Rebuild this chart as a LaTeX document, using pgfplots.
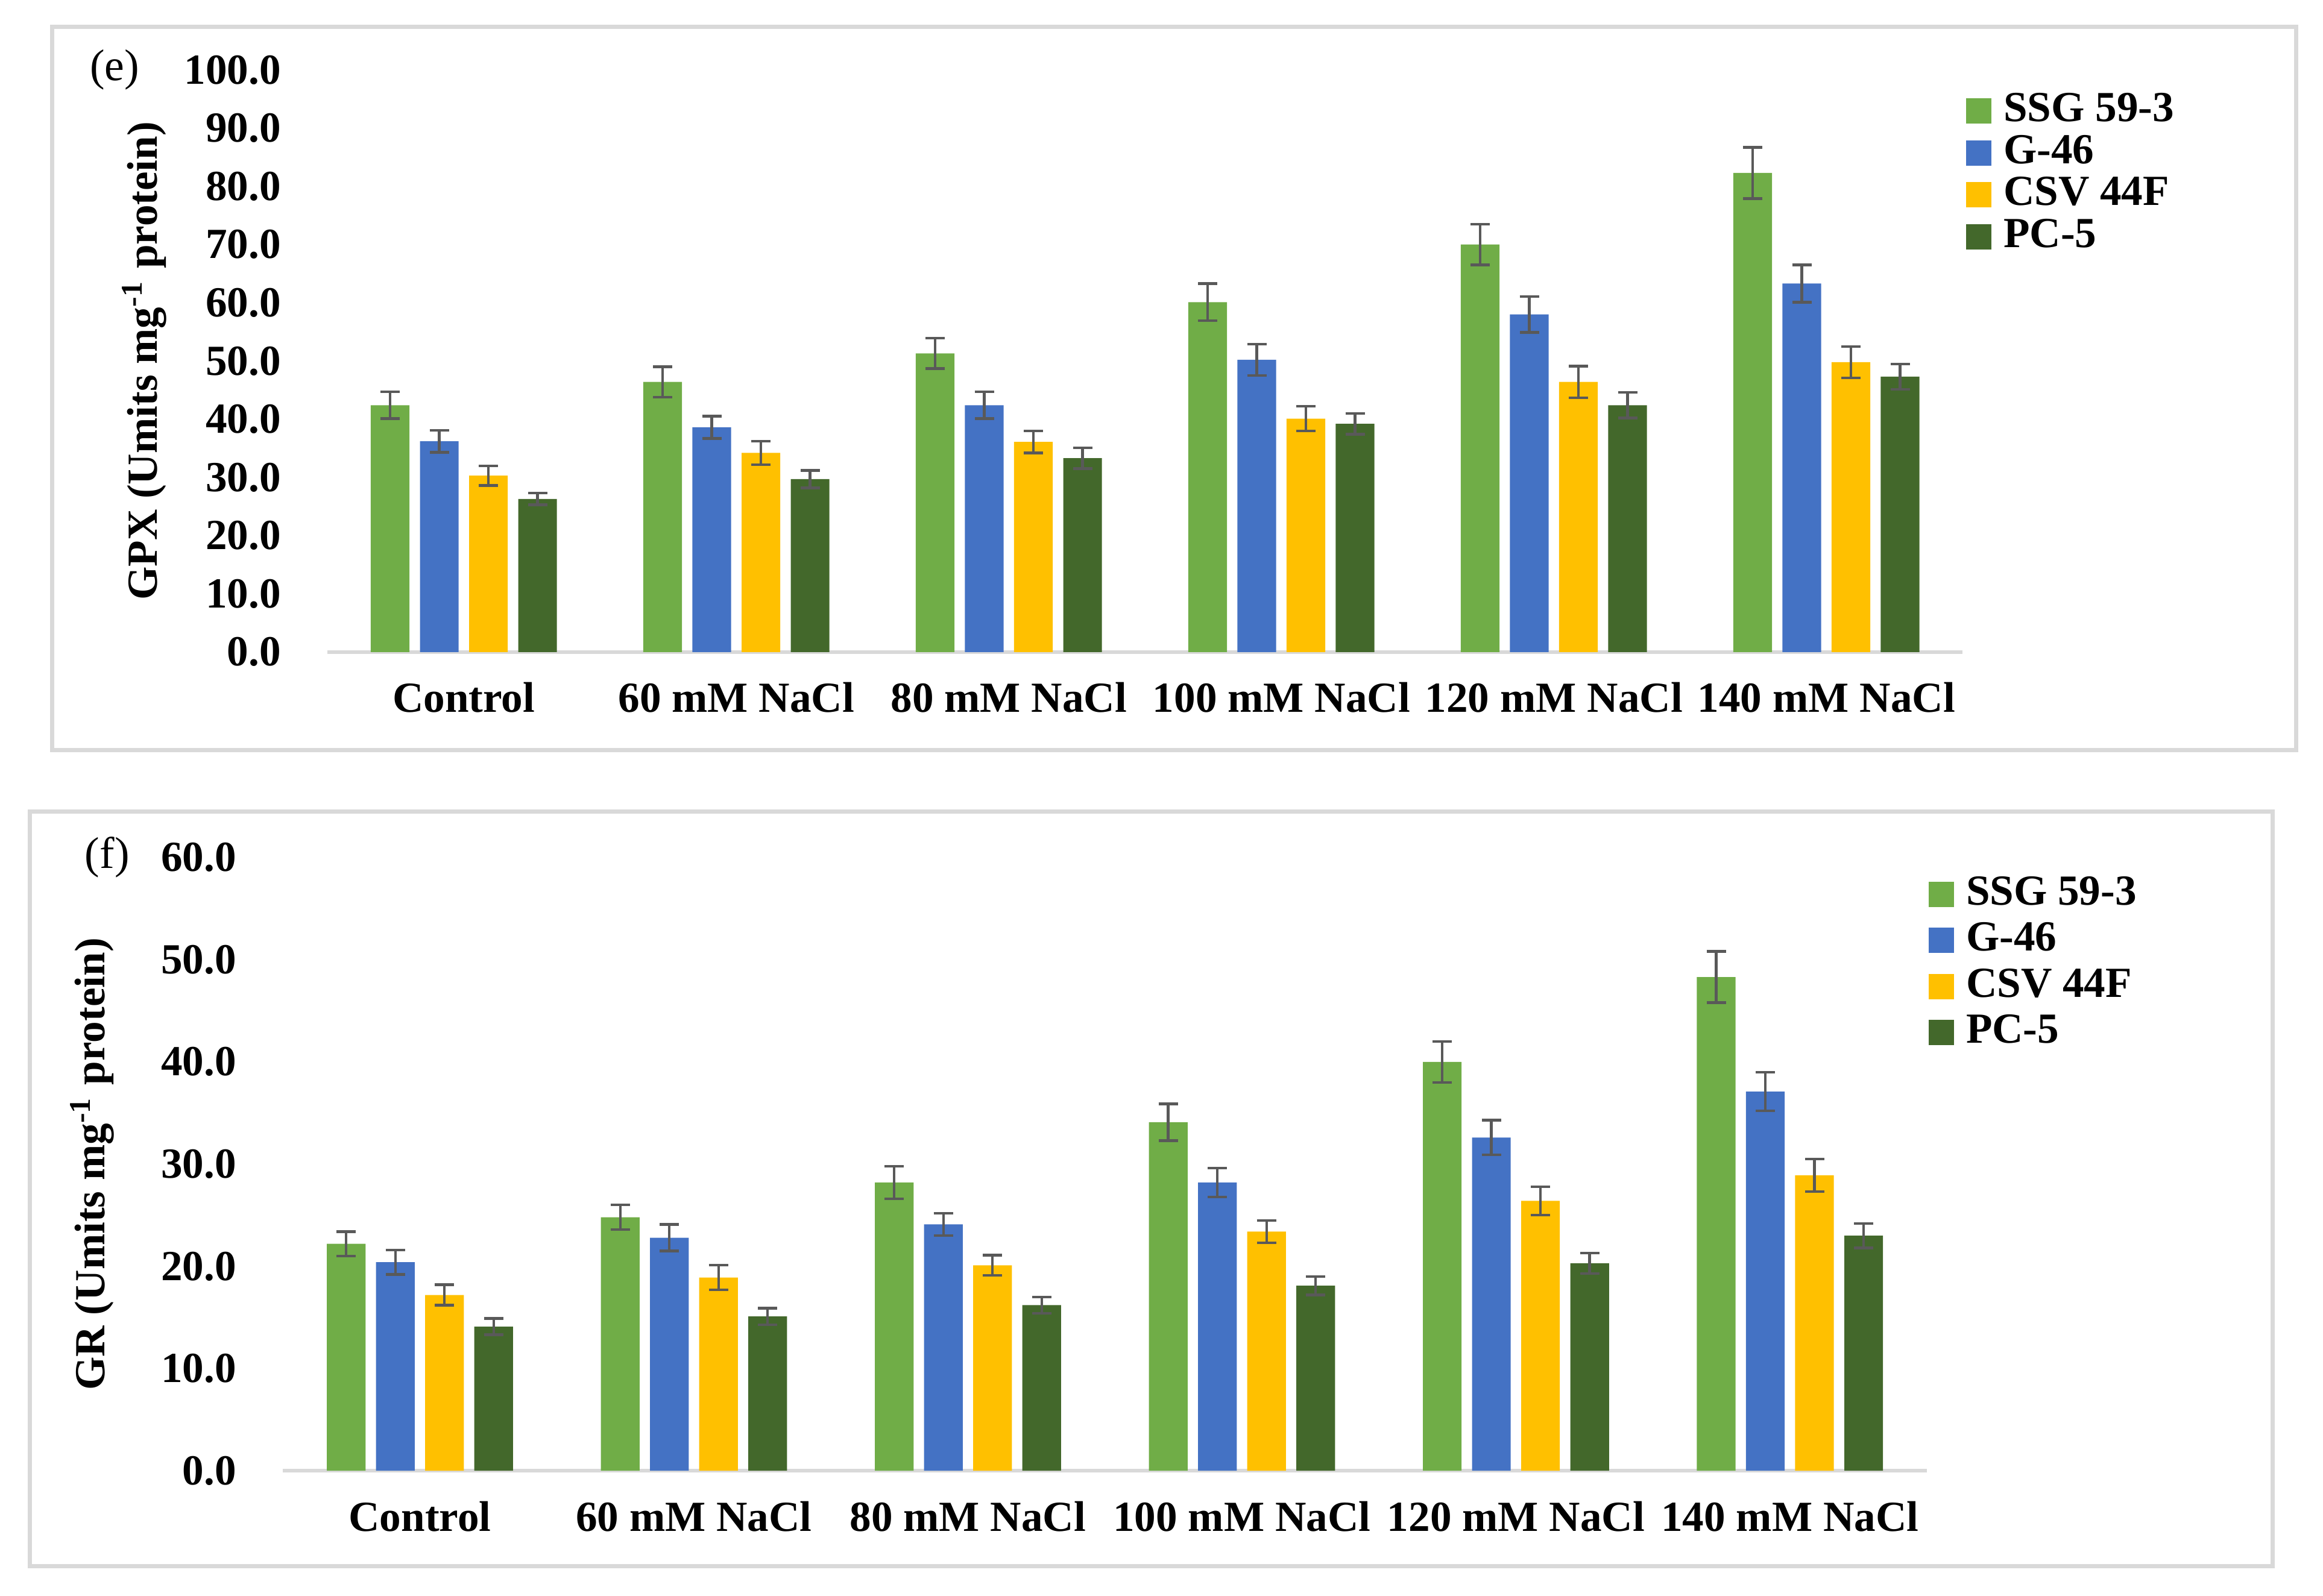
\documentclass[border=0pt]{standalone}
\usepackage{pgfplots}
\pgfplotsset{compat=1.18}
\usepackage{fontspec}
\setmainfont{Liberation Serif}

\definecolor{ssg}{HTML}{70AD47}
\definecolor{gsix}{HTML}{4472C4}
\definecolor{csv}{HTML}{FFC000}
\definecolor{pcf}{HTML}{43682B}
\definecolor{framegray}{HTML}{D9D9D9}
\definecolor{errgray}{HTML}{595959}

\newcommand{\lblfont}{\bfseries\fontsize{8.2}{9.8}\selectfont}

\pgfplotsset{
  panel/.style={
    scale only axis,
    ybar=0.07cm, bar width=0.26cm,
    xmin=-0.5, xmax=5.5,
    xtick={0,...,5},
    xticklabels={Control, 60 mM NaCl, 80 mM NaCl, 100 mM NaCl, 120 mM NaCl, 140 mM NaCl},
    axis x line*=bottom, axis y line*=left,
    y axis line style={draw=none},
    x axis line style={draw=framegray, line width=0.7pt},
    major tick length=0pt,
    tick label style={font=\lblfont},
    /pgf/number format/assume math mode=true,
    yticklabel style={/pgf/number format/.cd, fixed, fixed zerofill, precision=1, /tikz/.cd, xshift=-0.19cm},
    xticklabel style={yshift=-0.08cm},
    label style={font=\lblfont},
    legend cell align=left,
    legend image code/.code={\fill[##1] (0cm,-0.085cm) rectangle (0.17cm,0.085cm);},
    every axis plot/.append style={draw=none,
      error bars/y dir=both, error bars/y explicit,
      error bars/error bar style={line width=0.5pt, draw=errgray},
      error bars/error mark options={rotate=90, mark size=0.065cm, line width=0.5pt, draw=errgray}},
  },
}

\begin{document}
\begin{tikzpicture}
\path[use as bounding box] (0,0) rectangle (15.6,10.72);
\draw[framegray, line width=0.8pt] (0.35,5.68) rectangle (15.42,10.54);
\draw[framegray, line width=0.8pt] (0.20,0.20) rectangle (15.26,5.27);
\node[font=\fontsize{8.5}{10}\selectfont] at (0.77,10.25) {(e)};
\node[font=\fontsize{8.5}{10}\selectfont] at (0.72,4.96) {(f)};

% (e) GPX
\begin{axis}[panel,
  at={(2.20cm,6.34cm)}, anchor=south west,
  width=10.98cm, height=3.91cm,
  ymin=0, ymax=100, ytick={0,10,...,100},
  ylabel={GPX (Umits mg\textsuperscript{-1} protein)},
  y label style={at={(axis description cs:-0.112,0.5)}, anchor=center},
  legend style={at={(0.992,0.985)}, anchor=north west, draw=none, fill=none,
    font=\lblfont, row sep=0pt, column sep=0.08cm,
    nodes={inner sep=0pt, text height=6pt, text depth=2pt}},
]
\addplot[fill=ssg] coordinates {
  (0,42.4) +- (0,2.3) (1,46.4) +- (0,2.6) (2,51.3) +- (0,2.6)
  (3,60.1) +- (0,3.2) (4,70.0) +- (0,3.5) (5,82.3) +- (0,4.4)};
\addplot[fill=gsix] coordinates {
  (0,36.2) +- (0,1.9) (1,38.6) +- (0,1.9) (2,42.4) +- (0,2.3)
  (3,50.2) +- (0,2.7) (4,58.0) +- (0,3.1) (5,63.3) +- (0,3.2)};
\addplot[fill=csv] coordinates {
  (0,30.3) +- (0,1.7) (1,34.2) +- (0,2.0) (2,36.1) +- (0,1.9)
  (3,40.1) +- (0,2.1) (4,46.4) +- (0,2.7) (5,49.8) +- (0,2.7)};
\addplot[fill=pcf] coordinates {
  (0,26.3) +- (0,1.0) (1,29.7) +- (0,1.5) (2,33.3) +- (0,1.8)
  (3,39.2) +- (0,1.8) (4,42.4) +- (0,2.2) (5,47.3) +- (0,2.2)};
\legend{SSG 59-3, G-46, CSV 44F, PC-5}
\end{axis}

% (f) GR
\begin{axis}[panel,
  at={(1.90cm,0.84cm)}, anchor=south west,
  width=11.04cm, height=4.12cm,
  ymin=0, ymax=60, ytick={0,10,...,60},
  ylabel={GR (Umits mg\textsuperscript{-1} protein)},
  y label style={at={(axis description cs:-0.116,0.5)}, anchor=center},
  legend style={at={(0.991,0.996)}, anchor=north west, draw=none, fill=none,
    font=\lblfont, row sep=0pt, column sep=0.08cm,
    nodes={inner sep=0pt, text height=6.4pt, text depth=2.4pt}},
]
\addplot[fill=ssg] coordinates {
  (0,22.2) +- (0,1.2) (1,24.8) +- (0,1.2) (2,28.2) +- (0,1.6)
  (3,34.1) +- (0,1.8) (4,40.0) +- (0,2.0) (5,48.3) +- (0,2.5)};
\addplot[fill=gsix] coordinates {
  (0,20.4) +- (0,1.2) (1,22.8) +- (0,1.3) (2,24.1) +- (0,1.1)
  (3,28.2) +- (0,1.4) (4,32.6) +- (0,1.7) (5,37.1) +- (0,1.9)};
\addplot[fill=csv] coordinates {
  (0,17.2) +- (0,1.0) (1,18.9) +- (0,1.2) (2,20.1) +- (0,1.0)
  (3,23.4) +- (0,1.1) (4,26.4) +- (0,1.4) (5,28.9) +- (0,1.6)};
\addplot[fill=pcf] coordinates {
  (0,14.1) +- (0,0.8) (1,15.1) +- (0,0.8) (2,16.2) +- (0,0.8)
  (3,18.1) +- (0,0.9) (4,20.3) +- (0,1.0) (5,23.0) +- (0,1.2)};
\legend{SSG 59-3, G-46, CSV 44F, PC-5}
\end{axis}
\end{tikzpicture}
\end{document}
